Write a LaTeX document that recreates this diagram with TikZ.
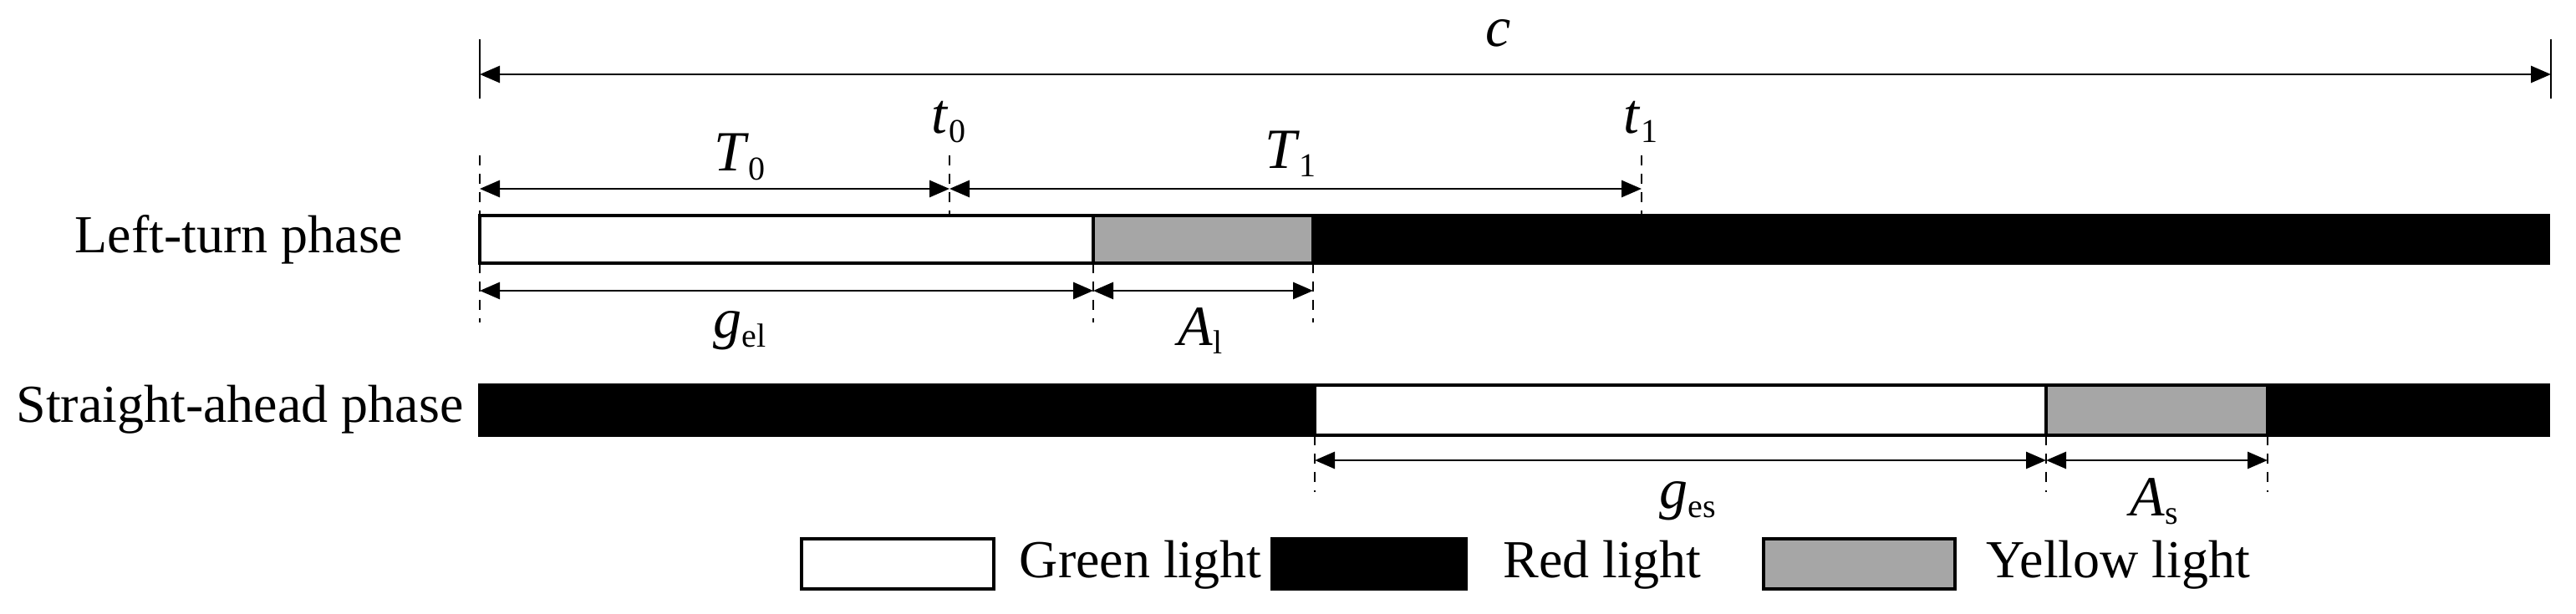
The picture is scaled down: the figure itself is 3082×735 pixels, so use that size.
\documentclass[tikz,border=0pt]{standalone}
\usepackage{fontspec}
\setmainfont{Liberation Serif}
\usetikzlibrary{arrows.meta}
\begin{document}
\begin{tikzpicture}[x=0.25pt,y=-0.25pt,
  bar/.style={draw=black,line width=0.8pt},
  dim/.style={line width=0.7pt,{Triangle[length=6pt,width=5pt]}-{Triangle[length=6pt,width=5pt]}},
  guide/.style={dashed,line width=0.5pt,dash pattern=on 3pt off 2.5pt},
  lab/.style={font=\fontsize{16}{18}\selectfont,inner sep=0pt},
  sym/.style={font=\fontsize{17}{19}\selectfont,inner sep=0pt}]
\useasboundingbox (0,0) rectangle (3082,735);
\newcommand{\sub}[1]{$_{\textup{\fontsize{10}{10}\selectfont #1}}$}
% left-turn bar
\filldraw[bar,fill=white] (574,258) rectangle (1308,315);
\filldraw[bar,fill=black!35] (1308,258) rectangle (1571,315);
\filldraw[bar,fill=black] (1571,258) rectangle (3049,315);
% straight bar
\filldraw[bar,fill=black] (574,461) rectangle (1573,521);
\filldraw[bar,fill=white] (1573,461) rectangle (2448,521);
\filldraw[bar,fill=black!35] (2448,461) rectangle (2713,521);
\filldraw[bar,fill=black] (2713,461) rectangle (3049,521);
% phase labels
\node[lab] (lt) at (286,287) {Left-turn phase};
\node[lab] (st) at (287,490) {Straight-ahead phase};
% cycle
\coordinate (c0) at (574,89);
\coordinate (c1) at (3052,89);
\draw[line width=0.6pt] (574,47) -- (574,118);
\draw[line width=0.6pt] (3052,47) -- (3052,118);
\draw[dim] (c0) -- (c1);
\node[sym] (c) at (1793,40) {\textit{c}};
% guides
\draw[guide] (574,186) -- (574,258);
\draw[guide] (574,315) -- (574,386);
\draw[guide] (1136,186) -- (1136,258);
\draw[guide] (1964,186) -- (1964,258);
\draw[guide] (1308,315) -- (1308,386);
\draw[guide] (1571,315) -- (1571,386);
\draw[guide] (1573,521) -- (1573,589);
\draw[guide] (2448,521) -- (2448,589);
\draw[guide] (2713,521) -- (2713,589);
% T dims
\coordinate (a0) at (574,226); \coordinate (a1) at (1136,226); \coordinate (a2) at (1964,226);
\draw[dim] (a0) -- (a1);
\draw[dim] (a1) -- (a2);
\node[sym] (T0) at (886,188) {\textit{T}\sub{0}};
\node[sym] (T1) at (1545,184) {\textit{T}\sub{1}};
\node[sym] (t0) at (1136,146) {\textit{t}\sub{0}};
\node[sym] (t1) at (1964,146) {\textit{t}\sub{1}};
% left lower dims
\coordinate (b0) at (574,348); \coordinate (b1) at (1308,348); \coordinate (b2) at (1571,348);
\draw[dim] (b0) -- (b1);
\draw[dim] (b1) -- (b2);
\node[sym] (gel) at (886,396) {\textit{g}\sub{el}};
\node[sym] (Al) at (1437,396) {\textit{A}\sub{l}};
% straight lower dims
\coordinate (d0) at (1573,551); \coordinate (d1) at (2448,551); \coordinate (d2) at (2713,551);
\draw[dim] (d0) -- (d1);
\draw[dim] (d1) -- (d2);
\node[sym] (ges) at (2020,600) {\textit{g}\sub{es}};
\node[sym] (As) at (2578,600) {\textit{A}\sub{s}};
% legend
\filldraw[bar,fill=white] (959,645) rectangle (1189,705);
\node[lab,anchor=west] (lg) at (1219,676) {Green light};
\filldraw[bar,fill=black] (1522,645) rectangle (1754,705);
\node[lab,anchor=west] (lr) at (1798,676) {Red light};
\filldraw[bar,fill=black!35] (2110,645) rectangle (2339,705);
\node[lab,anchor=west] (ly) at (2376,676) {Yellow light};
\end{tikzpicture}
\end{document}
